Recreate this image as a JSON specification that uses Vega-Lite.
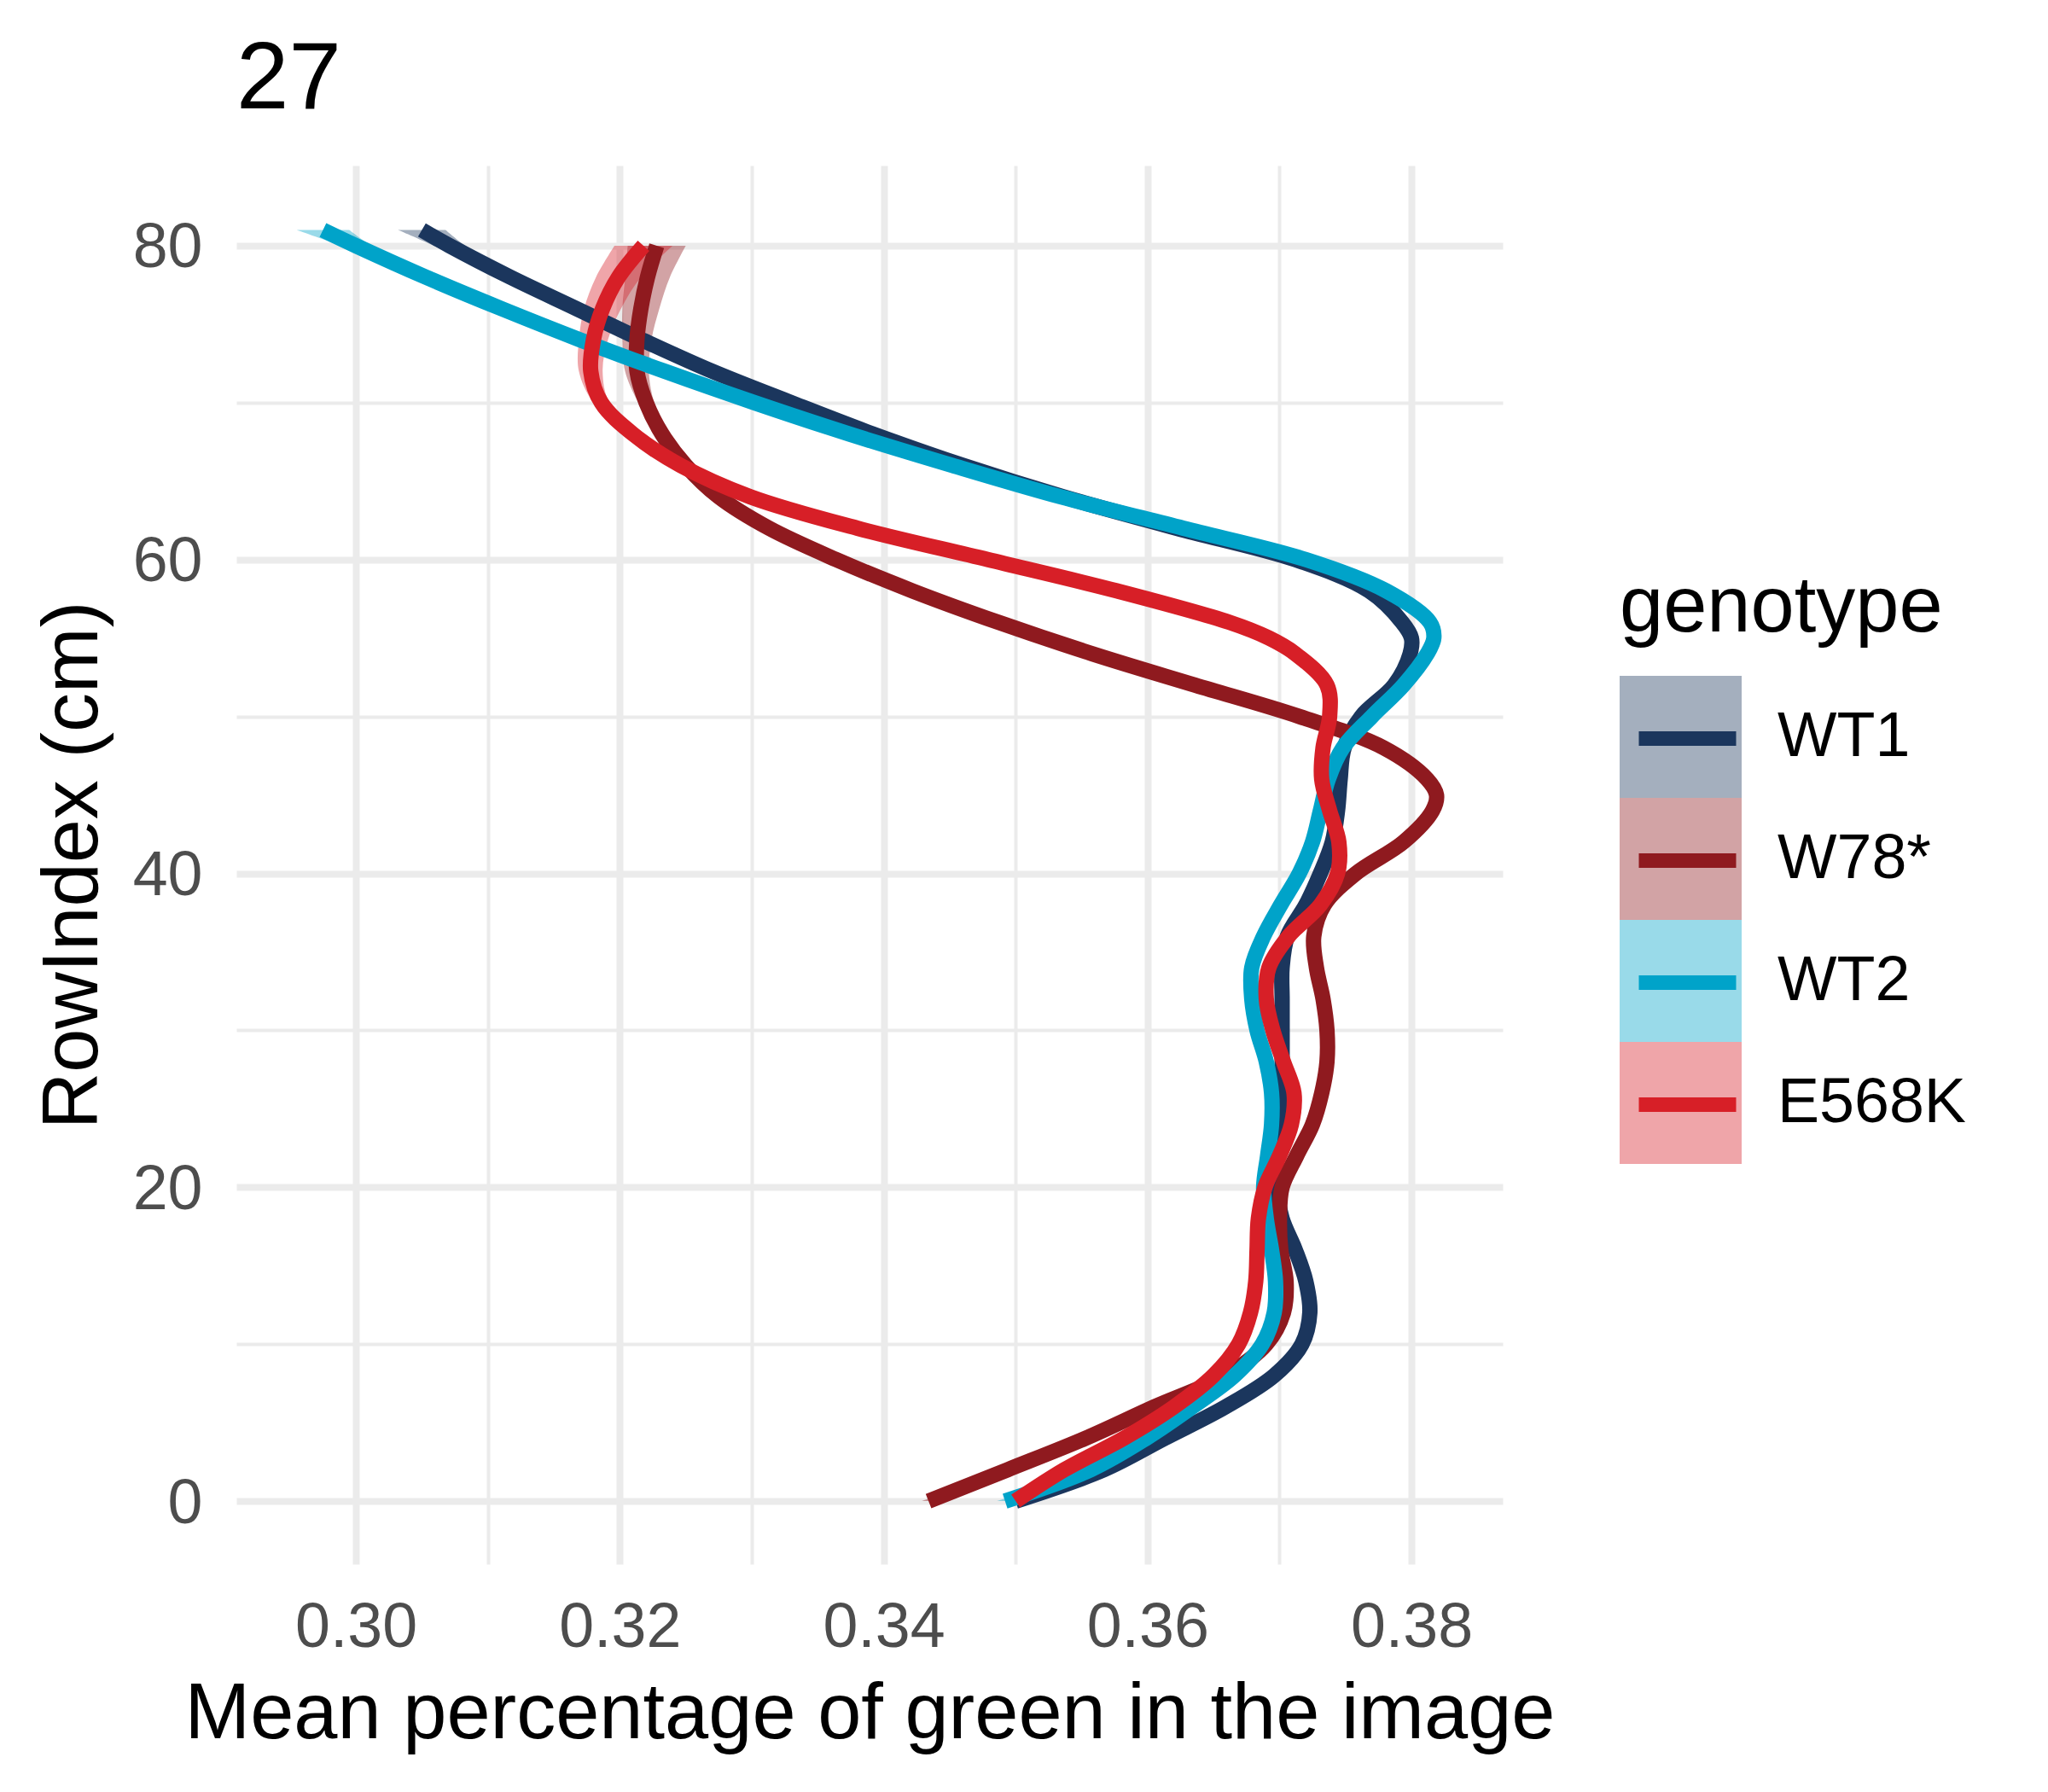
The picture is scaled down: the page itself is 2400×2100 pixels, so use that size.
{
  "$schema": "https://vega.github.io/schema/vega-lite/v6.json",
  "width": 1484,
  "height": 1639,
  "autosize": {"type": "none"},
  "padding": {"left": 277, "top": 194, "right": 639, "bottom": 267},
  "background": "white",
  "title": {"text": "27", "anchor": "start", "frame": "group", "fontSize": 110.4, "font": "Liberation Sans", "fontWeight": "normal", "color": "#000000", "baseline": "top", "offset": 44},
  "config": {
    "view": {"stroke": null},
    "font": "Liberation Sans",
    "axis": {"domain": false, "ticks": false, "grid": true, "gridColor": "#ebebeb", "labelFont": "Liberation Sans", "labelFontSize": 73.6, "labelColor": "#4d4d4d", "titleFont": "Liberation Sans", "titleFontSize": 92, "titleFontWeight": "normal", "titleColor": "#000000", "labelOverlap": false, "labelFlush": false, "labelBound": false}
  },
  "data": {"values": [
    {"g":"WT1","y":0,"x":0.3500,"lo":0.3494,"hi":0.3506},
    {"g":"WT1","y":2,"x":0.3567,"lo":0.3563,"hi":0.3571},
    {"g":"WT1","y":4,"x":0.3613,"lo":0.3610,"hi":0.3616},
    {"g":"WT1","y":6,"x":0.3659,"lo":0.3656,"hi":0.3662},
    {"g":"WT1","y":8,"x":0.3696,"lo":0.3694,"hi":0.3698},
    {"g":"WT1","y":10,"x":0.3717,"lo":0.3715,"hi":0.3719},
    {"g":"WT1","y":12,"x":0.3723,"lo":0.3721,"hi":0.3725},
    {"g":"WT1","y":14,"x":0.3720,"lo":0.3718,"hi":0.3722},
    {"g":"WT1","y":16,"x":0.3712,"lo":0.3710,"hi":0.3714},
    {"g":"WT1","y":18,"x":0.3702,"lo":0.3700,"hi":0.3704},
    {"g":"WT1","y":20,"x":0.3698,"lo":0.3696,"hi":0.3700},
    {"g":"WT1","y":22,"x":0.3698,"lo":0.3696,"hi":0.3700},
    {"g":"WT1","y":24,"x":0.3701,"lo":0.3699,"hi":0.3703},
    {"g":"WT1","y":26,"x":0.3702,"lo":0.3700,"hi":0.3704},
    {"g":"WT1","y":28,"x":0.3702,"lo":0.3700,"hi":0.3704},
    {"g":"WT1","y":30,"x":0.3702,"lo":0.3700,"hi":0.3704},
    {"g":"WT1","y":32,"x":0.3702,"lo":0.3700,"hi":0.3704},
    {"g":"WT1","y":34,"x":0.3702,"lo":0.3700,"hi":0.3704},
    {"g":"WT1","y":36,"x":0.3706,"lo":0.3704,"hi":0.3708},
    {"g":"WT1","y":38,"x":0.3720,"lo":0.3718,"hi":0.3722},
    {"g":"WT1","y":40,"x":0.3731,"lo":0.3729,"hi":0.3733},
    {"g":"WT1","y":42,"x":0.3740,"lo":0.3738,"hi":0.3742},
    {"g":"WT1","y":44,"x":0.3744,"lo":0.3742,"hi":0.3746},
    {"g":"WT1","y":46,"x":0.3746,"lo":0.3744,"hi":0.3748},
    {"g":"WT1","y":48,"x":0.3749,"lo":0.3747,"hi":0.3751},
    {"g":"WT1","y":50,"x":0.3762,"lo":0.3760,"hi":0.3764},
    {"g":"WT1","y":52,"x":0.3787,"lo":0.3785,"hi":0.3789},
    {"g":"WT1","y":54,"x":0.3799,"lo":0.3797,"hi":0.3801},
    {"g":"WT1","y":55,"x":0.3800,"lo":0.3798,"hi":0.3802},
    {"g":"WT1","y":56,"x":0.3793,"lo":0.3791,"hi":0.3795},
    {"g":"WT1","y":58,"x":0.3768,"lo":0.3766,"hi":0.3770},
    {"g":"WT1","y":60,"x":0.3712,"lo":0.3710,"hi":0.3714},
    {"g":"WT1","y":62,"x":0.3622,"lo":0.3620,"hi":0.3624},
    {"g":"WT1","y":64,"x":0.3536,"lo":0.3534,"hi":0.3538},
    {"g":"WT1","y":66,"x":0.3460,"lo":0.3458,"hi":0.3462},
    {"g":"WT1","y":68,"x":0.3392,"lo":0.3390,"hi":0.3394},
    {"g":"WT1","y":70,"x":0.3330,"lo":0.3328,"hi":0.3332},
    {"g":"WT1","y":72,"x":0.3270,"lo":0.3267,"hi":0.3273},
    {"g":"WT1","y":74,"x":0.3217,"lo":0.3213,"hi":0.3221},
    {"g":"WT1","y":76,"x":0.3167,"lo":0.3162,"hi":0.3172},
    {"g":"WT1","y":78,"x":0.3117,"lo":0.3109,"hi":0.3125},
    {"g":"WT1","y":80,"x":0.3071,"lo":0.3059,"hi":0.3083},
    {"g":"WT1","y":81,"x":0.3050,"lo":0.3032,"hi":0.3068},

    {"g":"W78*","y":0,"x":0.3434,"lo":0.3429,"hi":0.3439},
    {"g":"W78*","y":2,"x":0.3494,"lo":0.3491,"hi":0.3497},
    {"g":"W78*","y":4,"x":0.3553,"lo":0.3550,"hi":0.3556},
    {"g":"W78*","y":6,"x":0.3605,"lo":0.3602,"hi":0.3608},
    {"g":"W78*","y":8,"x":0.3659,"lo":0.3657,"hi":0.3661},
    {"g":"W78*","y":10,"x":0.3690,"lo":0.3688,"hi":0.3692},
    {"g":"W78*","y":12,"x":0.3703,"lo":0.3701,"hi":0.3705},
    {"g":"W78*","y":14,"x":0.3705,"lo":0.3703,"hi":0.3707},
    {"g":"W78*","y":16,"x":0.3701,"lo":0.3699,"hi":0.3703},
    {"g":"W78*","y":18,"x":0.3700,"lo":0.3698,"hi":0.3702},
    {"g":"W78*","y":20,"x":0.3702,"lo":0.3700,"hi":0.3704},
    {"g":"W78*","y":22,"x":0.3713,"lo":0.3711,"hi":0.3715},
    {"g":"W78*","y":24,"x":0.3725,"lo":0.3723,"hi":0.3727},
    {"g":"W78*","y":26,"x":0.3732,"lo":0.3730,"hi":0.3734},
    {"g":"W78*","y":28,"x":0.3736,"lo":0.3734,"hi":0.3738},
    {"g":"W78*","y":30,"x":0.3736,"lo":0.3734,"hi":0.3738},
    {"g":"W78*","y":32,"x":0.3733,"lo":0.3731,"hi":0.3735},
    {"g":"W78*","y":34,"x":0.3728,"lo":0.3726,"hi":0.3730},
    {"g":"W78*","y":36,"x":0.3726,"lo":0.3724,"hi":0.3728},
    {"g":"W78*","y":38,"x":0.3734,"lo":0.3732,"hi":0.3736},
    {"g":"W78*","y":40,"x":0.3758,"lo":0.3756,"hi":0.3760},
    {"g":"W78*","y":42,"x":0.3794,"lo":0.3792,"hi":0.3796},
    {"g":"W78*","y":44,"x":0.3816,"lo":0.3814,"hi":0.3818},
    {"g":"W78*","y":45,"x":0.3819,"lo":0.3817,"hi":0.3821},
    {"g":"W78*","y":46,"x":0.3812,"lo":0.3810,"hi":0.3814},
    {"g":"W78*","y":48,"x":0.3779,"lo":0.3777,"hi":0.3781},
    {"g":"W78*","y":50,"x":0.3715,"lo":0.3713,"hi":0.3717},
    {"g":"W78*","y":52,"x":0.3636,"lo":0.3634,"hi":0.3638},
    {"g":"W78*","y":54,"x":0.3558,"lo":0.3556,"hi":0.3560},
    {"g":"W78*","y":56,"x":0.3487,"lo":0.3485,"hi":0.3489},
    {"g":"W78*","y":58,"x":0.3422,"lo":0.3420,"hi":0.3424},
    {"g":"W78*","y":60,"x":0.3364,"lo":0.3362,"hi":0.3366},
    {"g":"W78*","y":62,"x":0.3313,"lo":0.3311,"hi":0.3315},
    {"g":"W78*","y":64,"x":0.3275,"lo":0.3273,"hi":0.3277},
    {"g":"W78*","y":66,"x":0.3250,"lo":0.3247,"hi":0.3253},
    {"g":"W78*","y":68,"x":0.3232,"lo":0.3228,"hi":0.3236},
    {"g":"W78*","y":70,"x":0.3220,"lo":0.3214,"hi":0.3226},
    {"g":"W78*","y":72,"x":0.3213,"lo":0.3204,"hi":0.3222},
    {"g":"W78*","y":74,"x":0.3213,"lo":0.3202,"hi":0.3224},
    {"g":"W78*","y":76,"x":0.3216,"lo":0.3202,"hi":0.3230},
    {"g":"W78*","y":78,"x":0.3221,"lo":0.3204,"hi":0.3238},
    {"g":"W78*","y":80,"x":0.3228,"lo":0.3206,"hi":0.3250},

    {"g":"WT2","y":0,"x":0.3492,"lo":0.3486,"hi":0.3498},
    {"g":"WT2","y":2,"x":0.3557,"lo":0.3553,"hi":0.3561},
    {"g":"WT2","y":4,"x":0.3599,"lo":0.3596,"hi":0.3602},
    {"g":"WT2","y":6,"x":0.3634,"lo":0.3631,"hi":0.3637},
    {"g":"WT2","y":8,"x":0.3666,"lo":0.3664,"hi":0.3668},
    {"g":"WT2","y":10,"x":0.3687,"lo":0.3685,"hi":0.3689},
    {"g":"WT2","y":12,"x":0.3696,"lo":0.3694,"hi":0.3698},
    {"g":"WT2","y":14,"x":0.3697,"lo":0.3695,"hi":0.3699},
    {"g":"WT2","y":16,"x":0.3694,"lo":0.3692,"hi":0.3696},
    {"g":"WT2","y":18,"x":0.3690,"lo":0.3688,"hi":0.3692},
    {"g":"WT2","y":20,"x":0.3688,"lo":0.3686,"hi":0.3690},
    {"g":"WT2","y":22,"x":0.3691,"lo":0.3689,"hi":0.3693},
    {"g":"WT2","y":24,"x":0.3694,"lo":0.3692,"hi":0.3696},
    {"g":"WT2","y":26,"x":0.3694,"lo":0.3692,"hi":0.3696},
    {"g":"WT2","y":28,"x":0.3690,"lo":0.3688,"hi":0.3692},
    {"g":"WT2","y":30,"x":0.3683,"lo":0.3681,"hi":0.3685},
    {"g":"WT2","y":32,"x":0.3679,"lo":0.3677,"hi":0.3681},
    {"g":"WT2","y":34,"x":0.3679,"lo":0.3677,"hi":0.3681},
    {"g":"WT2","y":36,"x":0.3688,"lo":0.3686,"hi":0.3690},
    {"g":"WT2","y":38,"x":0.3701,"lo":0.3699,"hi":0.3703},
    {"g":"WT2","y":40,"x":0.3715,"lo":0.3713,"hi":0.3717},
    {"g":"WT2","y":42,"x":0.3725,"lo":0.3723,"hi":0.3727},
    {"g":"WT2","y":44,"x":0.3731,"lo":0.3729,"hi":0.3733},
    {"g":"WT2","y":46,"x":0.3737,"lo":0.3735,"hi":0.3739},
    {"g":"WT2","y":48,"x":0.3748,"lo":0.3746,"hi":0.3750},
    {"g":"WT2","y":50,"x":0.3770,"lo":0.3768,"hi":0.3772},
    {"g":"WT2","y":52,"x":0.3794,"lo":0.3792,"hi":0.3796},
    {"g":"WT2","y":54,"x":0.3812,"lo":0.3810,"hi":0.3814},
    {"g":"WT2","y":55,"x":0.3817,"lo":0.3815,"hi":0.3819},
    {"g":"WT2","y":56,"x":0.3814,"lo":0.3812,"hi":0.3816},
    {"g":"WT2","y":58,"x":0.3781,"lo":0.3779,"hi":0.3783},
    {"g":"WT2","y":60,"x":0.3720,"lo":0.3718,"hi":0.3722},
    {"g":"WT2","y":62,"x":0.3627,"lo":0.3625,"hi":0.3629},
    {"g":"WT2","y":64,"x":0.3534,"lo":0.3532,"hi":0.3536},
    {"g":"WT2","y":66,"x":0.3452,"lo":0.3450,"hi":0.3454},
    {"g":"WT2","y":68,"x":0.3374,"lo":0.3372,"hi":0.3376},
    {"g":"WT2","y":70,"x":0.3302,"lo":0.3300,"hi":0.3304},
    {"g":"WT2","y":72,"x":0.3234,"lo":0.3231,"hi":0.3237},
    {"g":"WT2","y":74,"x":0.3170,"lo":0.3166,"hi":0.3174},
    {"g":"WT2","y":76,"x":0.3110,"lo":0.3105,"hi":0.3115},
    {"g":"WT2","y":78,"x":0.3053,"lo":0.3045,"hi":0.3061},
    {"g":"WT2","y":80,"x":0.3000,"lo":0.2988,"hi":0.3012},
    {"g":"WT2","y":81,"x":0.2975,"lo":0.2955,"hi":0.2995},

    {"g":"E568K","y":0,"x":0.3500,"lo":0.3495,"hi":0.3505},
    {"g":"E568K","y":2,"x":0.3537,"lo":0.3534,"hi":0.3540},
    {"g":"E568K","y":4,"x":0.3582,"lo":0.3579,"hi":0.3585},
    {"g":"E568K","y":6,"x":0.3620,"lo":0.3617,"hi":0.3623},
    {"g":"E568K","y":8,"x":0.3650,"lo":0.3648,"hi":0.3652},
    {"g":"E568K","y":10,"x":0.3669,"lo":0.3667,"hi":0.3671},
    {"g":"E568K","y":12,"x":0.3678,"lo":0.3676,"hi":0.3680},
    {"g":"E568K","y":14,"x":0.3682,"lo":0.3680,"hi":0.3684},
    {"g":"E568K","y":16,"x":0.3683,"lo":0.3681,"hi":0.3685},
    {"g":"E568K","y":18,"x":0.3684,"lo":0.3682,"hi":0.3686},
    {"g":"E568K","y":20,"x":0.3689,"lo":0.3687,"hi":0.3691},
    {"g":"E568K","y":22,"x":0.3700,"lo":0.3698,"hi":0.3702},
    {"g":"E568K","y":24,"x":0.3709,"lo":0.3707,"hi":0.3711},
    {"g":"E568K","y":26,"x":0.3711,"lo":0.3709,"hi":0.3713},
    {"g":"E568K","y":28,"x":0.3703,"lo":0.3701,"hi":0.3705},
    {"g":"E568K","y":30,"x":0.3695,"lo":0.3693,"hi":0.3697},
    {"g":"E568K","y":32,"x":0.3690,"lo":0.3688,"hi":0.3692},
    {"g":"E568K","y":34,"x":0.3692,"lo":0.3690,"hi":0.3694},
    {"g":"E568K","y":36,"x":0.3707,"lo":0.3705,"hi":0.3709},
    {"g":"E568K","y":38,"x":0.3731,"lo":0.3729,"hi":0.3733},
    {"g":"E568K","y":40,"x":0.3744,"lo":0.3742,"hi":0.3746},
    {"g":"E568K","y":42,"x":0.3745,"lo":0.3743,"hi":0.3747},
    {"g":"E568K","y":44,"x":0.3738,"lo":0.3736,"hi":0.3740},
    {"g":"E568K","y":46,"x":0.3732,"lo":0.3730,"hi":0.3734},
    {"g":"E568K","y":48,"x":0.3733,"lo":0.3731,"hi":0.3735},
    {"g":"E568K","y":50,"x":0.3738,"lo":0.3736,"hi":0.3740},
    {"g":"E568K","y":52,"x":0.3736,"lo":0.3734,"hi":0.3738},
    {"g":"E568K","y":54,"x":0.3712,"lo":0.3710,"hi":0.3714},
    {"g":"E568K","y":55,"x":0.3692,"lo":0.3690,"hi":0.3694},
    {"g":"E568K","y":56,"x":0.3662,"lo":0.3660,"hi":0.3664},
    {"g":"E568K","y":58,"x":0.3577,"lo":0.3575,"hi":0.3579},
    {"g":"E568K","y":60,"x":0.3479,"lo":0.3477,"hi":0.3481},
    {"g":"E568K","y":62,"x":0.3380,"lo":0.3378,"hi":0.3382},
    {"g":"E568K","y":64,"x":0.3299,"lo":0.3297,"hi":0.3301},
    {"g":"E568K","y":66,"x":0.3246,"lo":0.3243,"hi":0.3249},
    {"g":"E568K","y":68,"x":0.3210,"lo":0.3206,"hi":0.3214},
    {"g":"E568K","y":70,"x":0.3186,"lo":0.3180,"hi":0.3192},
    {"g":"E568K","y":72,"x":0.3178,"lo":0.3169,"hi":0.3187},
    {"g":"E568K","y":74,"x":0.3180,"lo":0.3169,"hi":0.3191},
    {"g":"E568K","y":76,"x":0.3187,"lo":0.3173,"hi":0.3201},
    {"g":"E568K","y":78,"x":0.3199,"lo":0.3182,"hi":0.3216},
    {"g":"E568K","y":80,"x":0.3218,"lo":0.3196,"hi":0.3240}
  ]},
  "encoding": {
    "y": {
      "field": "y", "type": "quantitative",
      "scale": {"domain": [-4.02, 85.11], "nice": false, "zero": false},
      "axis": {
        "title": "RowIndex (cm)",
        "values": [0, 10, 20, 30, 40, 50, 60, 70, 80],
        "labelExpr": "datum.value % 20 == 0 ? datum.label : ''",
        "gridWidth": {"condition": {"test": "datum.value % 20 == 0", "value": 8}, "value": 4},
        "labelPadding": 40,
        "labelOffset": 3,
        "titleBaseline": "alphabetic",
        "titleX": -164,
        "titleY": 819.5,
        "titleAlign": "center",
        "titleAngle": 270
      }
    }
  },
  "layer": [
    {
      "mark": {"type": "area", "opacity": 0.4, "interpolate": "catmull-rom"},
      "encoding": {
        "x": {
          "field": "lo", "type": "quantitative",
          "scale": {"domain": [0.29094, 0.38692], "nice": false, "zero": false},
          "axis": {
            "title": "Mean percentage of green in the image",
            "values": [0.30, 0.31, 0.32, 0.33, 0.34, 0.35, 0.36, 0.37, 0.38],
            "labelExpr": "round(datum.value*100) % 2 == 0 ? format(datum.value, '.2f') : ''",
            "gridWidth": {"condition": {"test": "round(datum.value*100) % 2 == 0", "value": 8}, "value": 4},
            "labelPadding": 38.6,
            "titleBaseline": "alphabetic",
            "titleY": 203,
            "titleX": 742
          }
        },
        "x2": {"field": "hi"},
        "fill": {
          "field": "g", "type": "nominal",
          "sort": ["WT1", "W78*", "WT2", "E568K"],
          "scale": {"range": ["#1b365d", "#8f1a1f", "#00a3c9", "#d71f27"]},
          "legend": {
            "title": "genotype",
            "orient": "none",
            "legendX": 1621,
            "legendY": 473,
            "padding": 0,
            "symbolType": "square",
            "symbolSize": 20449,
            "symbolStrokeWidth": 0,
            "symbolOpacity": 0.4,
            "rowPadding": 0,
            "labelOffset": 42,
            "labelLimit": 600,
            "titleLimit": 600,
            "labelFontSize": 73.6,
            "labelFont": "Liberation Sans",
            "labelColor": "#000000",
            "titleFontSize": 92,
            "titleFont": "Liberation Sans",
            "titleFontWeight": "normal",
            "titleColor": "#000000",
            "titlePadding": 33
          }
        }
      }
    },
    {
      "mark": {"type": "line", "strokeWidth": 18, "strokeCap": "butt", "interpolate": "catmull-rom"},
      "encoding": {
        "x": {
          "field": "x", "type": "quantitative",
          "scale": {"domain": [0.29094, 0.38692], "nice": false, "zero": false},
          "axis": {
            "title": "Mean percentage of green in the image",
            "values": [0.30, 0.31, 0.32, 0.33, 0.34, 0.35, 0.36, 0.37, 0.38],
            "labelExpr": "round(datum.value*100) % 2 == 0 ? format(datum.value, '.2f') : ''",
            "gridWidth": {"condition": {"test": "round(datum.value*100) % 2 == 0", "value": 8}, "value": 4},
            "labelPadding": 38.6,
            "titleBaseline": "alphabetic",
            "titleY": 203,
            "titleX": 742
          }
        },
        "order": {"field": "y", "type": "quantitative"},
        "stroke": {
          "field": "g", "type": "nominal",
          "scale": {"domain": ["WT1", "W78*", "WT2", "E568K"], "range": ["#1b365d", "#8f1a1f", "#00a3c9", "#d71f27"]},
          "legend": {
            "title": null,
            "orient": "none",
            "legendX": 1635,
            "legendY": 606,
            "padding": 0,
            "symbolType": "stroke",
            "symbolSize": 12996,
            "symbolStrokeWidth": 17,
            "symbolOpacity": 1,
            "rowPadding": 40,
            "labelExpr": "''",
            "labelFontSize": 73.6
          }
        }
      }
    }
  ]
}
